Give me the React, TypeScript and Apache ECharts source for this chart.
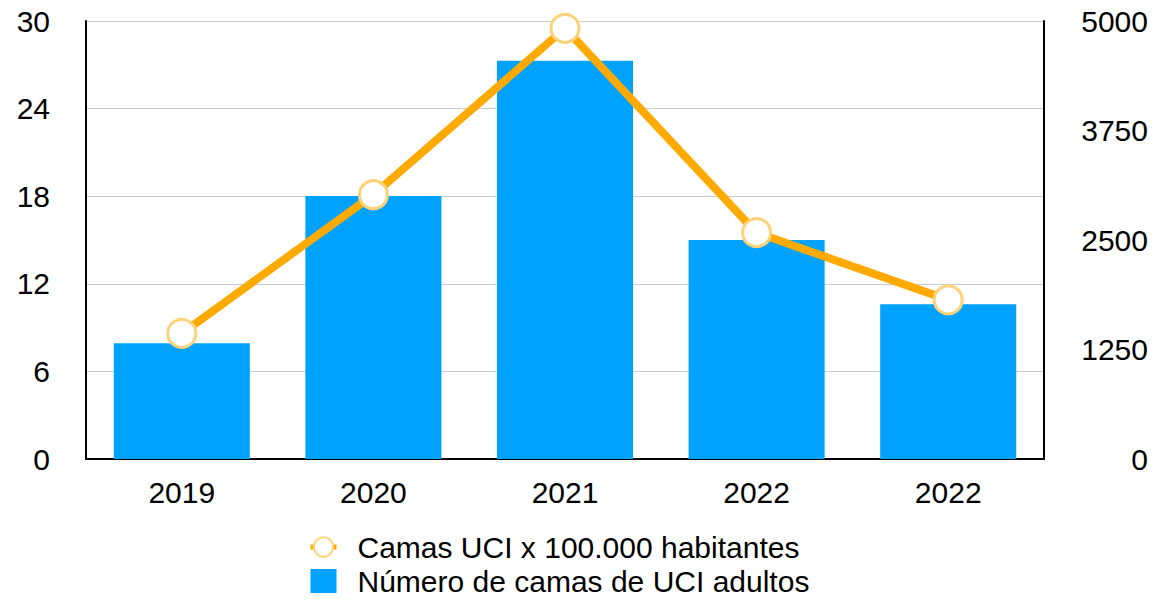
import React, { useEffect, useRef } from "react";
import * as echarts from "echarts";

const categories = ["2019", "2020", "2021", "2022", "2022"];
const camasPor100k = [8.6, 18.1, 29.5, 15.5, 10.9];
const numeroCamas = [1321, 3002, 4547, 2500, 1766];
const leftTicks = { min: 0, max: 30, interval: 6 };
const rightTicks = { min: 0, max: 5000, interval: 1250 };

const FONT = "Liberation Sans, Arial, Helvetica, sans-serif";
const FS = 30;

export default function App() {
  const ref = useRef<HTMLDivElement>(null);
  useEffect(() => {
    const chart = echarts.init(ref.current!, null, { renderer: "svg" });
    chart.setOption({
      animation: false,
      textStyle: { fontFamily: FONT },
      grid: { left: 86, right: 109, top: 21, bottom: 141 },
      legend: {
        orient: "vertical",
        left: 308,
        top: 532,
        padding: 0,
        itemWidth: 26,
        itemHeight: 24,
        itemGap: 4,
        textStyle: { fontSize: FS, color: "#000", fontFamily: FONT, padding: [0, 0, 0, 16] },
        data: [
          {
            name: "Camas UCI x 100.000 habitantes",
            itemStyle: { color: "#ffffff", borderColor: "#FFD27A", borderWidth: 2 },
            lineStyle: { color: "#FFAA00", width: 5 },
          },
          { name: "Número de camas de UCI adultos", icon: "rect" },
        ],
      },
      xAxis: {
        type: "category",
        data: categories,
        axisLine: { lineStyle: { color: "#000", width: 2 } },
        axisTick: { show: false },
        axisLabel: { fontSize: FS, color: "#000", margin: 18, fontFamily: FONT },
      },
      yAxis: [
        {
          type: "value",
          position: "left",
          ...leftTicks,
          axisLine: { show: true, lineStyle: { color: "#000", width: 2 } },
          axisTick: { show: false },
          axisLabel: { fontSize: FS, color: "#000", margin: 36, fontFamily: FONT },
          splitLine: { lineStyle: { color: "#cccccc", width: 1 } },
        },
        {
          type: "value",
          position: "right",
          ...rightTicks,
          axisLine: { show: true, lineStyle: { color: "#000", width: 2 } },
          axisTick: { show: false },
          axisLabel: {
            fontSize: FS,
            color: "#000",
            margin: 104,
            align: "right",
            fontFamily: FONT,
            formatter: (v: number) => String(v),
          },
          splitLine: { show: false },
        },
      ],
      series: [
        {
          name: "Número de camas de UCI adultos",
          type: "bar",
          yAxisIndex: 1,
          data: numeroCamas,
          barWidth: "71%",
          itemStyle: { color: "#00A2FF" },
          z: 1,
        },
        {
          name: "Camas UCI x 100.000 habitantes",
          type: "line",
          yAxisIndex: 0,
          data: camasPor100k,
          lineStyle: { color: "#FFAA00", width: 8 },
          itemStyle: { color: "#ffffff", borderColor: "#FFD27A", borderWidth: 3 },
          symbol: "circle",
          symbolSize: 28,
          z: 3,
        },
      ],
    });
    return () => chart.dispose();
  }, []);
  return <div ref={ref} style={{ width: 1153, height: 600, position: "absolute", left: 0, top: 0 }} />;
}
